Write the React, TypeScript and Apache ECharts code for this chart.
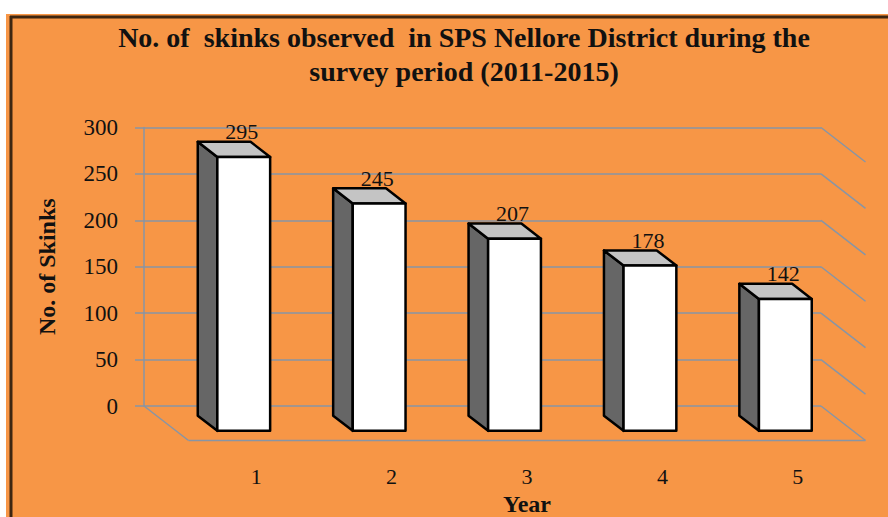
import React, { useEffect, useRef } from "react";
import * as echarts from "echarts";

const categories = ["1", "2", "3", "4", "5"];
const skinkCounts = [295, 245, 207, 178, 142];
const yTicks = [0, 50, 100, 150, 200, 250, 300];
const titleLines = ["No. of  skinks observed  in SPS Nellore District during the", "survey period (2011-2015)"];
const xAxisTitle = "Year";
const yAxisTitle = "No. of Skinks";

const DX = 44.5;
const DY = 34.5;
const FRONT = 0.72;
const BACK = 0.28;
const GRID_COLOR = "#8795a6";
const FONT = "'Liberation Serif', 'Times New Roman', serif";

export default function App() {
  const ref = useRef<HTMLDivElement>(null);
  useEffect(() => {
    if (!ref.current) return;
    const chart = echarts.init(ref.current, undefined, { renderer: "svg" });
    const option: any = {
      animation: false,
      backgroundColor: "#ffffff",
      title: {
        text: titleLines.join("\n"),
        left: 464,
        top: 20,
        textAlign: "center",
        padding: 0,
        textStyle: {
          fontFamily: FONT,
          fontWeight: "bold",
          fontSize: 28,
          lineHeight: 34,
          color: "#111",
        },
      },
      graphic: [
        { type: "rect", z: -10, silent: true, shape: { x: 6, y: 14, width: 882, height: 503 }, style: { fill: "#F79646" } },
        { type: "line", z: -9, silent: true, shape: { x1: 10, y1: 17, x2: 888, y2: 17 }, style: { stroke: "#3e2611", lineWidth: 3 } },
        { type: "line", z: -9, silent: true, shape: { x1: 11, y1: 16, x2: 11, y2: 517 }, style: { stroke: "#3e2611", lineWidth: 3 } },
      ],
      grid: { left: 144, top: 127.5, width: 677, height: 278.5, containLabel: false, outerBoundsMode: "none" },
      xAxis: {
        type: "category",
        data: categories,
        axisLine: { show: false },
        axisTick: { show: false },
        splitLine: { show: false },
        axisLabel: {
          margin: 59,
          padding: [0, 0, 0, 2 * DX],
          fontFamily: FONT,
          fontSize: 22,
          color: "#111",
        },
        name: xAxisTitle,
        nameLocation: "middle",
        nameGap: 83,
        nameTextStyle: {
          fontFamily: FONT,
          fontWeight: "bold",
          fontSize: 24,
          lineHeight: 24,
          color: "#111",
          padding: [0, 0, 0, 2 * DX],
        },
      },
      yAxis: {
        type: "value",
        min: 0,
        max: 300,
        interval: 50,
        axisLine: { show: true, lineStyle: { color: GRID_COLOR, width: 1.5 } },
        axisTick: { show: true, length: 9, lineStyle: { color: GRID_COLOR, width: 1.5 } },
        splitLine: { show: true, lineStyle: { color: GRID_COLOR, width: 1.5 } },
        axisLabel: { margin: 26, fontFamily: FONT, fontSize: 23, color: "#111" },
        name: yAxisTitle,
        nameLocation: "middle",
        nameRotate: 90,
        nameGap: 85,
        nameTextStyle: { fontFamily: FONT, fontWeight: "bold", fontSize: 24, color: "#111" },
      },
      series: [
        {
          type: "custom",
          z: 1,
          silent: true,
          data: yTicks.map((v) => [0, v]),
          renderItem: (params: any, api: any) => {
            const cs = params.coordSys;
            const p = api.coord([0, api.value(1)]);
            const xr = cs.x + cs.width;
            const style = { stroke: GRID_COLOR, lineWidth: 1.5, fill: null };
            const children: any[] = [
              { type: "line", shape: { x1: xr, y1: p[1], x2: xr + DX, y2: p[1] + DY }, style },
            ];
            if (api.value(1) === 0) {
              children.push({ type: "line", shape: { x1: cs.x, y1: p[1], x2: cs.x + DX, y2: p[1] + DY }, style });
              children.push({ type: "line", shape: { x1: cs.x + DX, y1: p[1] + DY, x2: xr + DX, y2: p[1] + DY }, style });
            }
            return { type: "group", children };
          },
        },
        {
          type: "custom",
          z: 5,
          silent: true,
          data: skinkCounts.map((v, i) => [i, v]),
          renderItem: (params: any, api: any) => {
            const base = api.coord([api.value(0), 0]);
            const top = api.coord([api.value(0), api.value(1)]);
            const band = api.size([1, 0])[0];
            const w = band * 0.39;
            const cx = base[0] + DX * FRONT;
            const by = base[1] + DY * FRONT;
            const ty = top[1] + DY * FRONT;
            const fl = cx - w / 2;
            const fr = cx + w / 2;
            const ddx = DX * (FRONT - BACK);
            const ddy = DY * (FRONT - BACK);
            const border = { stroke: "#000", lineWidth: 2.5, lineJoin: "round" };
            return {
              type: "group",
              children: [
                {
                  type: "polygon",
                  shape: { points: [[fl, ty], [fl - ddx, ty - ddy], [fl - ddx, by - ddy], [fl, by]] },
                  style: { fill: "#666666", ...border },
                },
                {
                  type: "polygon",
                  shape: { points: [[fl, ty], [fl - ddx, ty - ddy], [fr - ddx, ty - ddy], [fr, ty]] },
                  style: { fill: "#c4c4c4", ...border },
                },
                {
                  type: "rect",
                  shape: { x: fl, y: ty, width: w, height: by - ty },
                  style: { fill: "#ffffff", ...border },
                },
                {
                  type: "text",
                  style: {
                    text: String(api.value(1)),
                    x: cx - 2,
                    y: ty - ddy + 1,
                    align: "center",
                    verticalAlign: "bottom",
                    fontFamily: FONT,
                    fontSize: 22,
                    fill: "#111",
                  },
                },
              ],
            };
          },
        },
      ],
    };
    chart.setOption(option);
    return () => chart.dispose();
  }, []);
  return <div ref={ref} style={{ position: "absolute", left: 0, top: 0, width: 888, height: 517 }} />;
}
